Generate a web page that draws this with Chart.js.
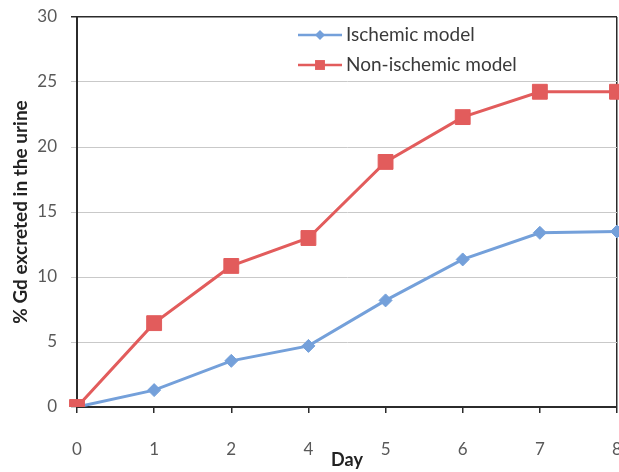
<!DOCTYPE html>
<html>
<head>
<meta charset="utf-8">
<script src="https://cdn.jsdelivr.net/npm/chart.js@4/dist/chart.umd.min.js"></script>
<style>
  html, body { margin: 0; padding: 0; background: #fff; }
  #wrap { width: 619px; height: 472px; }
</style>
</head>
<body>
<div id="wrap"><canvas id="c" width="619" height="472"></canvas></div>
<script>
// Cumulative percentage of Gd excreted in the urine, by day
const days = ['0', '1', '2', '4', '5', '6', '7', '8'];
const ischemic = [0, 1.3, 3.55, 4.7, 8.2, 11.35, 13.4, 13.5];
const nonIschemic = [0, 6.45, 10.85, 13.0, 18.85, 22.3, 24.25, 24.25];
const seriesNames = ['Ischemic model', 'Non-ischemic model'];
const yTicks = [0, 5, 10, 15, 20, 25, 30];

const BLUE = '#74a0da';
const RED = '#e25c5c';
const AXIS = '#2b2b2b';
const GRID = '#c9c9c9';
const TICK_TEXT = '#595959';
const FONT = 'Lato, "Liberation Sans", sans-serif';

// Legend drawn inside the plot area, near the top
const insideLegend = {
  id: 'insideLegend',
  afterDatasetsDraw(chart) {
    const ctx = chart.ctx;
    const rows = [
      { y: 35, style: 'rectRot', r: 5, color: BLUE },
      { y: 65, style: 'rect', r: 7, color: RED }
    ];
    ctx.save();
    chart.data.datasets.forEach((ds, i) => {
      const row = rows[i];
      ctx.strokeStyle = row.color;
      ctx.lineWidth = 2.5;
      ctx.beginPath();
      ctx.moveTo(298, row.y);
      ctx.lineTo(342, row.y);
      ctx.stroke();
      ctx.fillStyle = row.color;
      ctx.strokeStyle = row.color;
      ctx.lineWidth = 1;
      Chart.helpers.drawPoint(ctx, { pointStyle: row.style, radius: row.r, rotation: 0 }, 320, row.y);
      ctx.fillStyle = '#3a3a3a';
      ctx.font = '19px ' + FONT;
      ctx.textAlign = 'left';
      ctx.textBaseline = 'middle';
      ctx.fillText(ds.label, 346, row.y);
    });
    ctx.restore();
  }
};

new Chart(document.getElementById('c'), {
  type: 'line',
  data: {
    labels: days,
    datasets: [
      {
        label: seriesNames[0],
        data: ischemic,
        borderColor: BLUE,
        backgroundColor: BLUE,
        borderWidth: 3,
        pointStyle: 'rectRot',
        pointRadius: 6.5,
        pointBorderWidth: 1,
        tension: 0,
        order: 2
      },
      {
        label: seriesNames[1],
        data: nonIschemic,
        borderColor: RED,
        backgroundColor: RED,
        borderWidth: 3,
        pointStyle: 'rect',
        pointRadius: 10.5,
        pointBorderWidth: 1,
        tension: 0,
        order: 1
      }
    ]
  },
  options: {
    responsive: false,
    animation: false,
    layout: { autoPadding: false, padding: { left: 0, top: 17, right: 2, bottom: 0 } },
    plugins: {
      legend: { display: false },
      tooltip: { enabled: false }
    },
    scales: {
      x: {
        type: 'category',
        offset: false,
        grid: {
          drawOnChartArea: true,
          color: (c) => (c.index === days.length - 1 ? AXIS : 'rgba(0,0,0,0)'),
          lineWidth: 1.5,
          tickColor: AXIS,
          tickLength: 6
        },
        border: { display: true, color: AXIS, width: 2 },
        ticks: {
          color: TICK_TEXT,
          font: { family: FONT, size: 17 },
          padding: 26,
          maxRotation: 0,
          autoSkip: false
        },
        title: {
          display: true,
          text: 'Day',
          color: '#222',
          font: { family: FONT, size: 18, weight: 'bold' },
          padding: { top: 0, bottom: 1 }
        },
        afterFit(s) {
          s.height = 65;
          s.paddingLeft = 0;
          s.paddingRight = 0;
        }
      },
      y: {
        min: 0,
        max: 30,
        afterBuildTicks(s) {
          s.ticks = yTicks.map(v => ({ value: v }));
        },
        grid: {
          color: (c) => (c.tick && c.tick.value === 30 ? AXIS : GRID),
          lineWidth: (c) => (c.tick && c.tick.value === 30 ? 1.5 : 1),
          tickColor: (c) => (c.tick && c.tick.value === 30 ? AXIS : GRID),
          tickLength: 6
        },
        border: { display: true, color: AXIS, width: 2 },
        ticks: {
          color: TICK_TEXT,
          font: { family: FONT, size: 17 },
          padding: 14
        },
        title: {
          display: true,
          text: '% Gd excreted in the urine',
          color: '#222',
          font: { family: FONT, size: 19, weight: 'bold' },
          padding: { top: 9, bottom: 0 }
        },
        afterFit(s) {
          s.width = 77;
          s.paddingTop = 0;
          s.paddingBottom = 0;
        }
      }
    }
  },
  plugins: [insideLegend]
});
</script>
</body>
</html>
